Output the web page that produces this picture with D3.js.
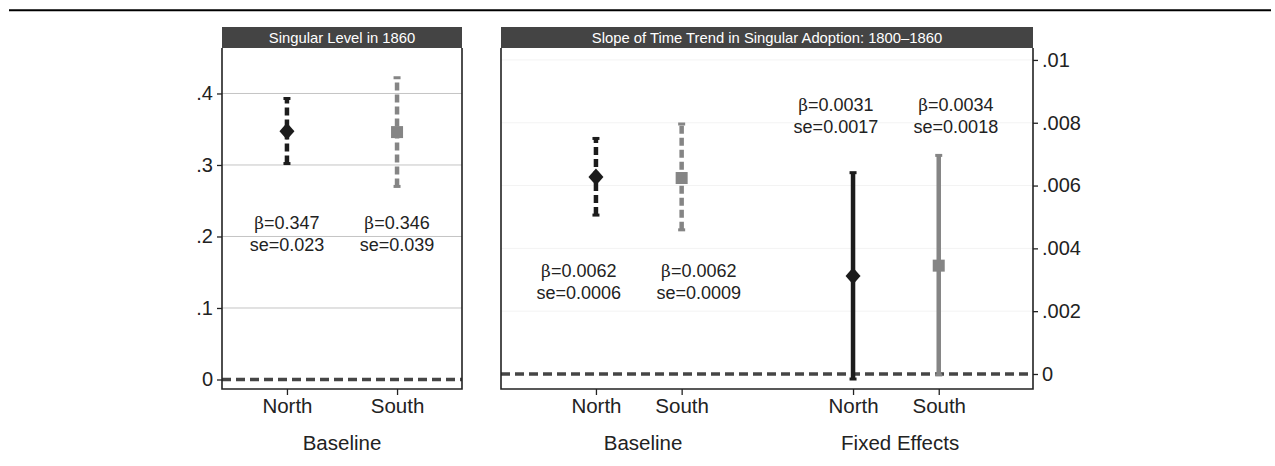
<!DOCTYPE html>
<html><head><meta charset="utf-8">
<script src="https://cdn.jsdelivr.net/npm/d3@7"></script>
<style>body{margin:0;background:#fff}svg{display:block}text{font-family:"Liberation Sans",Arial,sans-serif;fill:#222}</style>
</head><body><svg id="c" width="1275" height="466"></svg>
<script>
// ---- data ----
const leftTitle = "Singular Level in 1860";
const leftCats = ["North", "South"];
const leftPos = [1, 2];
const leftValues = [0.347, 0.346];
const leftLo = [0.302, 0.270];
const leftHi = [0.393, 0.422];
const leftBeta = ["0.347", "0.346"];
const leftSe = ["0.023", "0.039"];
const leftGroup = "Baseline";
const leftTicks = [0, 0.1, 0.2, 0.3, 0.4];
const leftTickLabels = ["0", ".1", ".2", ".3", ".4"];
const leftLabelAt = [0.205, 0.205];
const leftLabelPos = [1, 2];

const rightTitle = "Slope of Time Trend in Singular Adoption: 1800\u20131860";
const rightCats = ["North", "South", "North", "South"];
const rightPos = [1, 2, 4, 5];
const rightValues = [0.00627, 0.00624, 0.00312, 0.00345];
const rightLo = [0.00506, 0.00459, -0.00016, -0.00003];
const rightHi = [0.00750, 0.00796, 0.00641, 0.00696];
const rightBeta = ["0.0062", "0.0062", "0.0031", "0.0034"];
const rightSe = ["0.0006", "0.0009", "0.0017", "0.0018"];
const rightSolid = [false, false, true, true];
const rightGroups = ["Baseline", "Fixed Effects"];
const rightGroupPos = [1.55, 4.55];
const rightTicks = [0, 0.002, 0.004, 0.006, 0.008, 0.01];
const rightTickLabels = ["0", ".002", ".004", ".006", ".008", ".01"];
const rightLabelAt = [0.00297, 0.00297, 0.00826, 0.00826];
const rightLabelPos = [0.8, 2.2, 3.8, 5.2];

const seriesColor = ["#1c1c1c", "#858585"]; // North, South
const seriesShape = ["diamond", "square"];

// ---- drawing ----
const svg = d3.select("#c");
const TOP = 48, BOT = 389, HEAD = 27;

svg.append("line").attr("x1", 9).attr("x2", 1271).attr("y1", 10.3).attr("y2", 10.3)
  .attr("stroke", "#000").attr("stroke-width", 2);

function panel(o) {
  const g = svg.append("g");
  const x = d3.scaleLinear().domain(o.xDomain).range([o.x0, o.x1]);
  const y = d3.scaleLinear().domain(o.yDomain).range([BOT, TOP]);
  // gridlines
  g.selectAll(".grid").data(o.ticks.filter(t => t !== 0)).join("line")
    .attr("x1", o.x0).attr("x2", o.x1).attr("y1", d => y(d)).attr("y2", d => y(d))
    .attr("stroke", o.gridColor).attr("stroke-width", 1);
  // zero line
  g.append("line").attr("x1", o.x0).attr("x2", o.x1).attr("y1", y(0)).attr("y2", y(0))
    .attr("stroke", "#454545").attr("stroke-width", 3.7).attr("stroke-dasharray", "9,5");
  // header
  g.append("rect").attr("x", o.x0).attr("y", HEAD).attr("width", o.x1 - o.x0).attr("height", TOP - HEAD)
    .attr("fill", "#444");
  g.append("text").attr("x", (o.x0 + o.x1) / 2).attr("y", 43).attr("text-anchor", "middle")
    .style("font-size", "14.8px").style("fill", "#fff").text(o.title);
  // frame
  g.append("path").attr("d", `M${o.x0},${TOP}V${BOT}H${o.x1}V${TOP}`)
    .attr("fill", "none").attr("stroke", "#222").attr("stroke-width", 1.6);
  // y axis
  const ax = o.side === "left"
    ? d3.axisLeft(y).tickValues(o.ticks).tickFormat((d, i) => o.tickLabels[i]).tickSize(5).tickPadding(4)
    : d3.axisRight(y).tickValues(o.ticks).tickFormat((d, i) => o.tickLabels[i]).tickSize(5).tickPadding(4);
  const ag = g.append("g").attr("transform", `translate(${o.side === "left" ? o.x0 : o.x1},0)`).call(ax);
  ag.select(".domain").remove();
  ag.selectAll(".tick line").attr("stroke", "#222").attr("stroke-width", 1.3);
  ag.selectAll(".tick text").style("font-size", "20px").style("fill", "#222")
    .attr("font-family", null);
  // x axis
  const xa = d3.axisBottom(x).tickValues(o.pos).tickFormat((d, i) => o.cats[i]).tickSize(6).tickPadding(3);
  const xg = g.append("g").attr("transform", `translate(0,${BOT})`).call(xa);
  xg.select(".domain").remove();
  xg.selectAll(".tick line").attr("stroke", "#222").attr("stroke-width", 1.3);
  xg.selectAll(".tick text").style("font-size", "20.5px").style("fill", "#222").attr("font-family", null);
  // group labels
  g.selectAll(".grp").data(o.groups).join("text")
    .attr("x", (d, i) => x(o.groupPos[i])).attr("y", 450).attr("text-anchor", "middle")
    .style("font-size", "20.5px").text(d => d);
  // CIs & markers
  o.values.forEach((v, i) => {
    const s = o.cats[i] === "North" ? 0 : 1;
    const col = seriesColor[s];
    const cx = x(o.pos[i]);
    g.append("line").attr("x1", cx).attr("x2", cx).attr("y1", y(o.lo[i])).attr("y2", y(o.hi[i]))
      .attr("stroke", col).attr("stroke-width", 4.5)
      .attr("stroke-dasharray", o.solid[i] ? null : "8,4");
    [o.lo[i], o.hi[i]].forEach(e => {
      g.append("line").attr("x1", cx - 3.5).attr("x2", cx + 3.5).attr("y1", y(e)).attr("y2", y(e))
        .attr("stroke", col).attr("stroke-width", 3);
    });
    const cy = y(v);
    if (seriesShape[s] === "diamond") {
      g.append("path").attr("d", `M${cx},${cy - 8.5}L${cx + 7.5},${cy}L${cx},${cy + 8.5}L${cx - 7.5},${cy}Z`)
        .attr("fill", col);
    } else {
      g.append("rect").attr("x", cx - 6).attr("y", cy - 6).attr("width", 12).attr("height", 12).attr("fill", col);
    }
    // annotation
    const tx = x(o.labelPos[i]);
    const ty = y(o.labelAt[i]);
    const t1 = g.append("text").attr("x", tx).attr("y", ty - 4).attr("text-anchor", "middle").style("font-size", "18px");
    t1.append("tspan").style("font-family", "'DejaVu Serif','Liberation Serif',serif").style("font-size", "17px").text("\u03b2");
    t1.append("tspan").text("=" + o.beta[i]);
    g.append("text").attr("x", tx).attr("y", ty + 18).attr("text-anchor", "middle").style("font-size", "18px")
      .text("se=" + o.se[i]);
  });
}

panel({
  x0: 222, x1: 462, side: "left", title: leftTitle,
  xDomain: [0.41, 2.59], yDomain: [-0.0133, 0.4636],
  ticks: leftTicks, tickLabels: leftTickLabels, gridColor: "#c4c4c4",
  pos: leftPos, cats: leftCats, values: leftValues, lo: leftLo, hi: leftHi,
  beta: leftBeta, se: leftSe, solid: [false, false], labelAt: leftLabelAt, labelPos: leftLabelPos,
  groups: [leftGroup], groupPos: [1.5]
});
panel({
  x0: 501, x1: 1033, side: "right", title: rightTitle,
  xDomain: [-0.108, 6.1], yDomain: [-0.000478, 0.01038],
  ticks: rightTicks, tickLabels: rightTickLabels, gridColor: "#f3f3f3",
  pos: rightPos, cats: rightCats, values: rightValues, lo: rightLo, hi: rightHi,
  beta: rightBeta, se: rightSe, solid: rightSolid, labelAt: rightLabelAt, labelPos: rightLabelPos,
  groups: rightGroups, groupPos: rightGroupPos
});
</script></body></html>
